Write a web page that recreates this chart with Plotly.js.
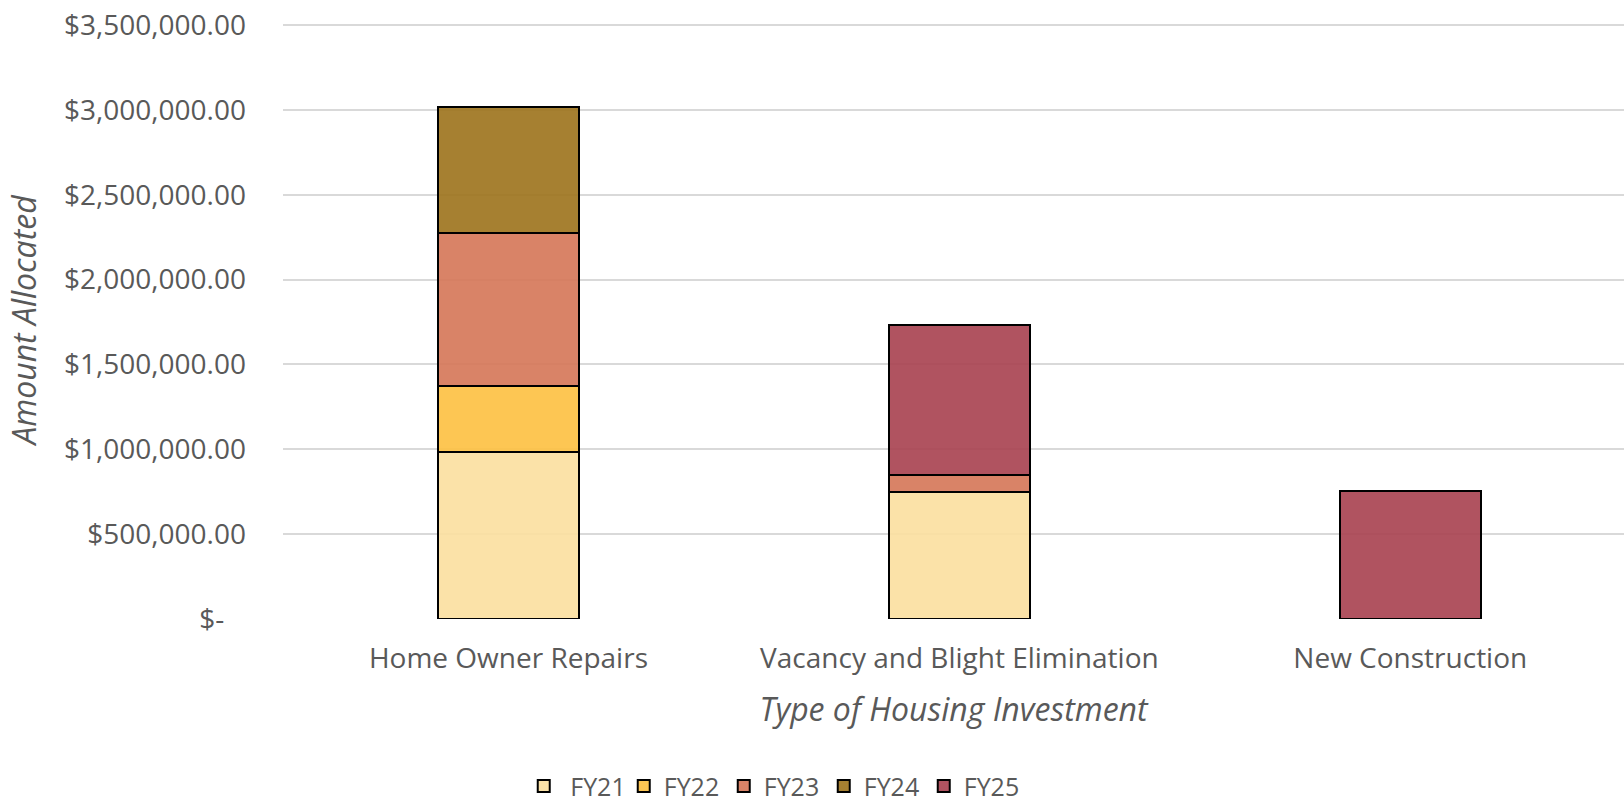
<!DOCTYPE html>
<html>
<head>
<meta charset="utf-8">
<script src="https://cdn.plot.ly/plotly-3.0.1.min.js"></script>
<style>
  html, body { margin: 0; padding: 0; background: #ffffff; }
  #chart { width: 1624px; height: 802px; }
</style>
</head>
<body>
<div id="chart"></div>
<script>
// ---- data ----
const categories = ["Home Owner Repairs", "Vacancy and Blight Elimination", "New Construction"];
const seriesNames = ["FY21", "FY22", "FY23", "FY24", "FY25"];
const fy21 = [984000, 750000, 0];
const fy22 = [391000, 0, 0];
const fy23 = [897000, 100000, 0];
const fy24 = [747000, 0, 0];
const fy25 = [0, 885000, 752000];
const yTickValues = [0, 500000, 1000000, 1500000, 2000000, 2500000, 3000000, 3500000];
const yTickLabels = ["$-\u00a0\u00a0\u00a0", "$500,000.00", "$1,000,000.00", "$1,500,000.00", "$2,000,000.00", "$2,500,000.00", "$3,000,000.00", "$3,500,000.00"];
const xTitle = "Type of Housing Investment";
const yTitle = "Amount Allocated";

// ---- styling ----
const seriesValues = [fy21, fy22, fy23, fy24, fy25];
const colors = [
  "rgba(251,223,158,0.9)",
  "rgba(253,192,64,0.9)",
  "rgba(213,118,87,0.9)",
  "rgba(156,114,27,0.9)",
  "rgba(167,64,79,0.9)"
];
const textColor = "#595959";
const fontFamily = "'Open Sans', 'Noto Sans', sans-serif";

const traces = seriesNames.map((name, i) => ({
  type: "bar",
  name: (i === 0 ? "\u00a0" : "") + name,
  x: categories,
  y: seriesValues[i].map(v => v === 0 ? null : v),
  width: 0.313,
  marker: { color: colors[i], line: { color: "#000000", width: 2 } },
  hoverinfo: "x+y+name"
}));

const layout = {
  width: 1624,
  height: 802,
  barmode: "stack",
  paper_bgcolor: "#ffffff",
  plot_bgcolor: "#ffffff",
  margin: { l: 283, r: 0, t: 22, b: 183, pad: 0, autoexpand: false },
  font: { family: fontFamily, color: textColor, size: 28 },
  xaxis: {
    type: "category",
    range: [-0.5, 2.474],
    showgrid: false,
    zeroline: false,
    showline: false,
    ticks: "",
    tickangle: 0,
    ticklabelstandoff: 20,
    tickfont: { family: fontFamily, size: 28, color: textColor },
    title: {
      text: xTitle,
      font: { family: fontFamily, size: 32, color: textColor, style: "italic" },
      standoff: 23
    },
    automargin: false
  },
  yaxis: {
    range: [0, 3517600],
    tickvals: yTickValues,
    ticktext: yTickLabels,
    showgrid: true,
    gridcolor: "#d9d9d9",
    gridwidth: 2,
    zeroline: false,
    showline: false,
    ticks: "",
    ticklabelstandoff: 36,
    tickfont: { family: fontFamily, size: 28, color: textColor },
    automargin: false
  },
  annotations: [{
    text: yTitle,
    xref: "paper",
    yref: "paper",
    x: -0.1938,
    y: 0.5,
    xanchor: "center",
    yanchor: "middle",
    textangle: -90,
    showarrow: false,
    font: { family: fontFamily, size: 32, color: textColor, style: "italic" }
  }],
  showlegend: true,
  legend: {
    orientation: "h",
    xref: "container",
    yref: "paper",
    x: 0.3225,
    xanchor: "left",
    y: -0.28,
    yanchor: "middle",
    traceorder: "normal",
    font: { family: fontFamily, size: 25, color: textColor },
    itemwidth: 30,
    entrywidth: 55,
    itemsizing: "constant",
    bgcolor: "rgba(0,0,0,0)"
  },
  bargap: 0.687
};

Plotly.newPlot("chart", traces, layout, { displayModeBar: false, staticPlot: true });
</script>
</body>
</html>
